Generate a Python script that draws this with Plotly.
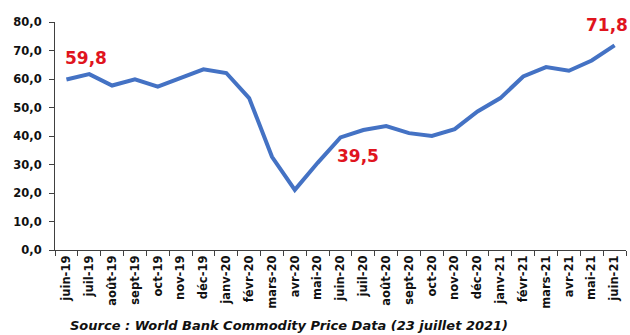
import plotly.graph_objects as go

months = ["juin-19", "juil-19", "août-19", "sept-19", "oct-19", "nov-19", "déc-19",
          "janv-20", "févr-20", "mars-20", "avr-20", "mai-20", "juin-20", "juil-20",
          "août-20", "sept-20", "oct-20", "nov-20", "déc-20", "janv-21", "févr-21",
          "mars-21", "avr-21", "mai-21", "juin-21"]
values = [59.8, 61.7, 57.7, 59.9, 57.3, 60.3, 63.4, 62.1, 53.3, 32.7, 21.1, 30.6,
          39.5, 42.1, 43.5, 41.0, 40.0, 42.4, 48.6, 53.3, 60.9, 64.2, 62.9, 66.5, 71.8]
y_ticks = [0, 10, 20, 30, 40, 50, 60, 70, 80]
y_tick_labels = ["0,0", "10,0", "20,0", "30,0", "40,0", "50,0", "60,0", "70,0", "80,0"]

# highlighted labels: (index, text, xshift, yshift)
highlights = [(0, "59,8", 20, 22), (12, "39,5", 17, -19), (24, "71,8", -8, 20)]

FONT = "DejaVu Sans"
AX = "#404040"

fig = go.Figure()
fig.add_trace(go.Scatter(
    x=months, y=values, mode="lines",
    line=dict(color="#4472C4", width=4),
    hoverinfo="skip", showlegend=False,
))

for i, txt, dx, dy in highlights:
    fig.add_annotation(
        x=months[i], y=values[i], text=txt, showarrow=False,
        xshift=dx, yshift=dy,
        font=dict(family=FONT, size=17, color="#E0141E", weight="bold"),
    )

fig.add_annotation(
    xref="paper", yref="paper", x=0.41, y=-0.33, xanchor="center", yanchor="middle",
    text="<b><i>Source : World Bank Commodity Price Data (23 juillet 2021)</i></b>",
    showarrow=False, font=dict(family=FONT, size=13, color="#111111"),
)

fig.update_layout(
    width=630, height=335,
    margin=dict(l=55, r=4, t=22, b=85),
    paper_bgcolor="white", plot_bgcolor="white",
    font=dict(family=FONT, color="#111111"),
    xaxis=dict(
        type="category", range=[-0.5, len(months) - 0.5],
        tickangle=-90, tickson="boundaries", ticks="outside", ticklen=5,
        tickcolor=AX, showline=True, linecolor=AX, linewidth=1,
        showgrid=False, zeroline=False,
        tickfont=dict(family=FONT, size=11.5, color="#111111", weight="bold"),
    ),
    yaxis=dict(
        range=[0, 80], tickvals=y_ticks, ticktext=y_tick_labels,
        ticks="outside", ticklen=5, tickcolor=AX,
        showline=True, linecolor=AX, linewidth=1,
        showgrid=False, zeroline=False, ticklabelstandoff=5,
        tickfont=dict(family=FONT, size=11.5, color="#111111", weight="bold"),
    ),
)

fig.write_html("out.html")
